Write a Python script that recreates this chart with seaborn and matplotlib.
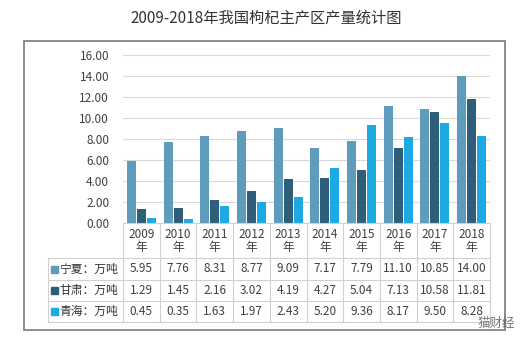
import matplotlib
matplotlib.use("Agg")
import matplotlib.pyplot as plt
import matplotlib.patches as mpatches
from matplotlib.lines import Line2D
import seaborn as sns
import pandas as pd

years = ["2009", "2010", "2011", "2012", "2013", "2014", "2015", "2016", "2017", "2018"]
regions = ["宁夏：万吨", "甘肃：万吨", "青海：万吨"]
ningxia = [5.95, 7.76, 8.31, 8.77, 9.09, 7.17, 7.79, 11.10, 10.85, 14.00]
gansu = [1.29, 1.45, 2.16, 3.02, 4.19, 4.27, 5.04, 7.13, 10.58, 11.81]
qinghai = [0.45, 0.35, 1.63, 1.97, 2.43, 5.20, 9.36, 8.17, 9.50, 8.28]
title = "2009-2018年我国枸杞主产区产量统计图"
yticks = [0, 2, 4, 6, 8, 10, 12, 14, 16]

colors = ["#5F9CBB", "#2F5E7B", "#1DAAE2"]
series = [ningxia, gansu, qinghai]

rows = []
for reg, vals in zip(regions, series):
    for y, v in zip(years, vals):
        rows.append({"year": y, "region": reg, "value": v})
df = pd.DataFrame(rows)

sns.set_style("white")
plt.rcParams["font.family"] = ["Noto Sans CJK SC", "DejaVu Sans"]

W, H = 532, 346
fig = plt.figure(figsize=(W / 100, H / 100), dpi=100)

def fx(px):
    return px / W

def fy(py):
    return 1 - py / H

L, R, T, B = 123, 490, 55, 223
ax = fig.add_axes([fx(L), fy(B), fx(R) - fx(L), fy(T) - fy(B)])

sns.barplot(data=df, x="year", y="value", hue="region", palette=colors,
            hue_order=regions, order=years, width=0.82, gap=0.1,
            saturation=1, legend=False, ax=ax, edgecolor="none")

ax.set_ylim(0, 16)
ax.set_xlim(-0.5, len(years) - 0.5)
ax.set_yticks(yticks)
ax.set_yticklabels([f"{v:.2f}" for v in yticks], fontsize=8.5, color="#404040")
ax.tick_params(axis="y", length=0, pad=10)
ax.tick_params(axis="x", length=0, labelbottom=False)
ax.set_xlabel("")
ax.set_ylabel("")
ax.yaxis.grid(True, color="#D9D9D9", lw=0.8)
ax.set_axisbelow(True)
for s in ax.spines.values():
    s.set_visible(False)

fig.text(0.5, fy(18), title, ha="center", va="center", fontsize=11, color="#333333")

# Outer frame
fig.patches.append(mpatches.Rectangle((fx(24), fy(330)), fx(505) - fx(24), fy(41) - fy(330),
                                      transform=fig.transFigure, fill=False,
                                      edgecolor="#8C8C8C", lw=1.4))

# Table grid
line_c = "#D0D0D0"
colw = (R - L) / len(years)
row_tops = [258, 280, 301, 322]
def hline(y, x0, x1):
    fig.add_artist(Line2D([fx(x0), fx(x1)], [fy(y), fy(y)], transform=fig.transFigure,
                          color=line_c, lw=0.8))
def vline(x, y0, y1):
    fig.add_artist(Line2D([fx(x), fx(x)], [fy(y0), fy(y1)], transform=fig.transFigure,
                          color=line_c, lw=0.8))

hline(B, L, R)
for y in row_tops:
    hline(y, 48, R)
for k in range(len(years) + 1):
    vline(L + k * colw, B, 322)
vline(48, 258, 322)

for i, yr in enumerate(years):
    cx = L + (i + 0.5) * colw
    fig.text(fx(cx), fy(234), yr, ha="center", va="center", fontsize=8.5, color="#404040")
    fig.text(fx(cx), fy(248), "年", ha="center", va="center", fontsize=8.5, color="#404040")

for r, (reg, vals, c) in enumerate(zip(regions, series, colors)):
    cy = (row_tops[r] + row_tops[r + 1]) / 2
    fig.patches.append(mpatches.Rectangle((fx(51), fy(cy + 3.5)), fx(7), fy(0) - fy(7),
                                          transform=fig.transFigure, color=c))
    fig.text(fx(59), fy(cy), reg, ha="left", va="center", fontsize=8.5, color="#333333")
    for i, v in enumerate(vals):
        cx = L + (i + 0.5) * colw
        fig.text(fx(cx), fy(cy), f"{v:.2f}", ha="center", va="center",
                 fontsize=8.5, color="#404040")

fig.text(fx(496), fy(323), "猫财经", ha="center", va="center", fontsize=9, color="#555555", alpha=0.8)

fig.savefig("out.png", dpi=100, facecolor="white")
